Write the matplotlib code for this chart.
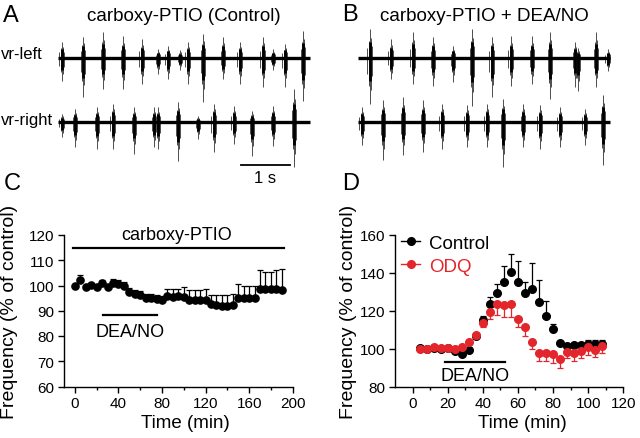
import numpy as np
import matplotlib
matplotlib.use("Agg")
import matplotlib.pyplot as plt
from matplotlib.lines import Line2D

plt.rcParams["font.family"] = ["Liberation Sans", "DejaVu Sans"]

# ---------------- data ----------------
# ventral root bursts: time (s), upward and downward extent (a.u.)
a_left_t = [0.08, 0.51, 0.92, 1.33, 1.71, 2.04, 2.24, 2.49, 2.65, 2.96, 3.37, 3.71, 4.18, 4.39, 4.63, 5.0]
a_left_up = [16, 21, 26, 22, 19, 9, 12, 8, 16, 24, 21, 16, 21, 9, 14, 27]
a_left_dn = [23, 39, 31, 31, 26, 16, 21, 12, 26, 44, 21, 26, 29, 12, 29, 43]

a_right_t = [0.08, 0.35, 0.8, 1.12, 1.55, 1.96, 2.04, 2.45, 2.86, 3.18, 3.59, 3.96, 4.39, 4.82]
a_right_up = [8, 13, 15, 18, 15, 15, 15, 20, 6, 18, 16, 11, 16, 33]
a_right_dn = [15, 25, 27, 27, 32, 25, 27, 39, 17, 30, 22, 34, 24, 45]

b_left_t = [0.24, 0.67, 1.12, 1.53, 1.94, 2.33, 2.73, 3.12, 3.55, 3.92, 4.43, 4.49, 4.86, 5.1]
b_left_up = [29, 19, 26, 21, 12, 29, 21, 22, 22, 26, 16, 10, 26, 9]
b_left_dn = [46, 21, 26, 28, 24, 48, 39, 28, 26, 41, 29, 33, 29, 13]

b_right_t = [0.08, 0.51, 0.92, 1.33, 1.71, 2.22, 2.63, 2.96, 3.37, 3.71, 4.12, 4.63, 5.0]
b_right_up = [15, 22, 25, 22, 18, 17, 18, 23, 18, 17, 15, 13, 27]
b_right_dn = [23, 38, 33, 30, 27, 25, 25, 45, 25, 27, 25, 23, 43]

trace_len = 5.14  # s

# panel C: carboxy-PTIO, DEA/NO
c_time = list(range(0, 195, 5))
c_freq = [99.8, 102.2, 99.3, 100.2, 99.6, 101.0, 99.3, 101.0, 100.7, 99.8,
          97.4, 96.8, 96.1, 95.0, 95.2, 94.7, 94.1, 95.8, 95.6, 95.8,
          95.4, 94.1, 94.1, 94.1, 94.3, 92.7, 92.3, 92.0, 92.0, 92.3,
          95.0, 95.0, 95.0, 95.0, 98.5, 98.5, 98.5, 98.5, 98.2]
c_err = [0.0, 1.8, 0.5, 0.5, 0.5, 1.0, 0.5, 1.7, 1.5, 1.5,
         1.8, 1.5, 1.6, 1.8, 1.6, 1.5, 1.8, 2.8, 3.0, 2.8,
         4.2, 4.0, 4.0, 4.0, 4.2, 3.6, 4.0, 4.3, 4.3, 4.3,
         5.6, 5.0, 5.0, 5.0, 7.5, 7.0, 7.0, 7.5, 8.2]
c_ptio_bar = (-2, 192, 115)
c_dea_bar = (26, 75, 88.5)

# panel D: Control vs ODQ
d_time = list(range(4, 112, 4))
d_ctrl = [100.2, 100.0, 100.2, 100.0, 100.3, 99.0, 97.1, 99.3, 106.5, 115.2,
          123.5, 129.2, 135.4, 140.5, 135.0, 129.2, 131.5, 124.4, 117.0, 110.5,
          102.8, 101.5, 102.0, 102.0, 102.2, 102.2, 102.4]
d_ctrl_err = [0.3, 0.3, 0.3, 0.3, 0.3, 0.5, 0.5, 0.5, 1.0, 1.8,
              3.5, 5.0, 8.0, 9.6, 11.4, 6.0, 13.7, 12.0, 8.3, 2.5,
              0.8, 1.0, 1.0, 1.0, 2.6, 2.3, 2.2]
d_odq = [99.8, 100.0, 100.8, 100.2, 100.2, 100.0, 100.8, 103.3, 107.3, 113.5,
         119.4, 123.6, 123.2, 123.8, 115.8, 111.3, 103.4, 97.9, 97.6, 97.0,
         94.6, 98.4, 97.6, 98.6, 100.8, 99.5, 101.2]
d_odq_err = [0.3, 0.3, 0.3, 0.3, 0.3, 0.3, 0.5, 0.5, 1.8, 2.3,
             3.8, 5.7, 6.5, 7.0, 4.4, 4.6, 3.5, 4.5, 4.2, 4.5,
             5.0, 3.3, 4.3, 3.7, 4.4, 3.8, 3.7]
d_dea_bar = (18.5, 52.5, 93)

RED = "#e3262b"
W, H = 640, 439


def fx(px):
    return px / W


def fy(py):
    return 1 - py / H


fig = plt.figure(figsize=(6.4, 4.39), dpi=100)


# ---------------- traces ----------------
def draw_trace(ax, offset, times, ups, downs):
    ax.plot([0, trace_len], [offset, offset], color="black", lw=2.4,
            solid_capstyle="butt", zorder=3)
    spread = [-0.05, -0.025, 0.0, 0.02, 0.045]
    scale = [0.35, 0.6, 1.0, 0.7, 0.4]
    for t, u, d in zip(times, ups, downs):
        for dt, s in zip(spread, scale):
            ax.vlines(t + dt, offset - d * s, offset + u * s, color="0.3", lw=0.7, zorder=2)
        ax.vlines(t, offset - d * 0.5, offset + u * 0.55, color="black", lw=2.0, zorder=4)


def trace_axes(left_px):
    ax = fig.add_axes([fx(left_px), fy(185), fx(254), 160 / H])
    ax.set_xlim(0, 254 / 49)
    ax.set_ylim(-126, 34)
    ax.axis("off")
    return ax


axA = trace_axes(58)
draw_trace(axA, 0, a_left_t, a_left_up, a_left_dn)
draw_trace(axA, -64, a_right_t, a_right_up, a_right_dn)
axA.plot([3.73, 4.73], [-106.5, -106.5], color="black", lw=1.3)
axA.text(4.23, -124, "1 s", ha="center", va="baseline", fontsize=12)

axB = trace_axes(358)
draw_trace(axB, 0, b_left_t, b_left_up, b_left_dn)
draw_trace(axB, -64, b_right_t, b_right_up, b_right_dn)

fig.text(fx(1), fy(59), "vr-left", fontsize=12, va="baseline")
fig.text(fx(1), fy(125), "vr-right", fontsize=12, va="baseline")
fig.text(fx(184), fy(21), "carboxy-PTIO (Control)", fontsize=13.5, ha="center", va="baseline")
fig.text(fx(484), fy(21), "carboxy-PTIO + DEA/NO", fontsize=13.5, ha="center", va="baseline")

for lab, x, y in [("A", 3, 22), ("B", 342, 21), ("C", 4, 190), ("D", 342, 190)]:
    fig.text(fx(x), fy(y), lab, fontsize=17, va="baseline")


# ---------------- panel C ----------------
def style_axes(ax):
    for s in ["top", "right"]:
        ax.spines[s].set_visible(False)
    for s in ["left", "bottom"]:
        ax.spines[s].set_linewidth(1.0)
    ax.tick_params(which="major", direction="out", length=4, width=1.0, labelsize=11, pad=3)
    ax.tick_params(which="minor", direction="out", length=2.5, width=1.0)


axC = fig.add_axes([fx(64), fy(387.5), fx(228.7), 151.5 / H])
style_axes(axC)
axC.errorbar(c_time, c_freq, yerr=[np.zeros(len(c_err)), c_err], fmt="o", color="black",
             ms=5.2, elinewidth=0.9, capsize=2.2, capthick=0.9, zorder=3)
axC.plot(c_ptio_bar[:2], [c_ptio_bar[2]] * 2, color="black", lw=1.6)
axC.plot(c_dea_bar[:2], [c_dea_bar[2]] * 2, color="black", lw=1.6)
axC.text(93.6, 120.3, "carboxy-PTIO", ha="center", va="center", fontsize=13)
axC.text(50.5, 81.9, "DEA/NO", ha="center", va="center", fontsize=13)
axC.set_xlim(-10, 200)
axC.set_ylim(60, 120)
axC.set_xticks(range(0, 201, 40))
axC.set_xticks(range(20, 200, 40), minor=True)
axC.set_yticks(range(60, 121, 10))

# ---------------- panel D ----------------
axD = fig.add_axes([fx(395), fy(387.5), fx(228.3), 151.5 / H])
style_axes(axD)
axD.errorbar(d_time, d_ctrl, yerr=[np.zeros(len(d_ctrl_err)), d_ctrl_err], fmt="o",
             color="black", ms=5.5, elinewidth=0.9, capsize=2.2, capthick=0.9, zorder=3)
axD.errorbar(d_time, d_odq, yerr=[d_odq_err, np.zeros(len(d_odq_err))], fmt="o",
             color=RED, ms=5.5, elinewidth=0.9, capsize=2.2, capthick=0.9, zorder=4)
axD.plot(d_dea_bar[:2], [d_dea_bar[2]] * 2, color="black", lw=1.6)
axD.text(35.6, 85.8, "DEA/NO", ha="center", va="center", fontsize=13)
axD.set_xlim(-10, 120)
axD.set_ylim(80, 160)
axD.set_xticks(range(0, 121, 20))
axD.set_xticks(range(10, 120, 20), minor=True)
axD.set_yticks(range(80, 161, 20))

handles = [Line2D([], [], color="black", marker="o", ms=5.5, lw=1.0),
           Line2D([], [], color=RED, marker="o", ms=5.5, lw=1.0)]
leg = axD.legend(handles, ["Control", "ODQ"], loc="upper left", bbox_to_anchor=(-0.005, 1.05),
                 frameon=False, fontsize=13.5, handlelength=1.0, handletextpad=0.5,
                 labelspacing=0.3, borderaxespad=0)
leg.get_texts()[1].set_color(RED)

# axis labels
fig.text(fx(10), fy(312), "Frequency (% of control)", rotation=90, ha="center", va="center", fontsize=14)
fig.text(fx(348.5), fy(312), "Frequency (% of control)", rotation=90, ha="center", va="center", fontsize=14)
fig.text(fx(185), fy(428), "Time (min)", ha="center", va="baseline", fontsize=13.5)
fig.text(fx(522), fy(428), "Time (min)", ha="center", va="baseline", fontsize=13.5)

fig.savefig("out.png", dpi=100)
